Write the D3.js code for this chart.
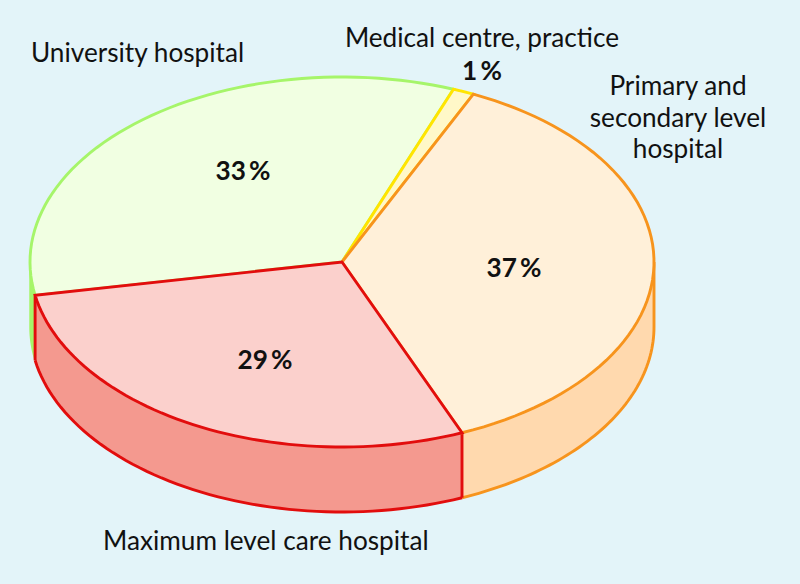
<!DOCTYPE html>
<html><head><meta charset="utf-8">
<script src="https://cdn.jsdelivr.net/npm/d3@7"></script>
<style>html,body{margin:0;padding:0;background:#e3f4f9}svg{display:block}text{font-family:"Lato",sans-serif;fill:#111}</style>
</head><body><svg id="c" width="800" height="584"></svg>
<script>
const categories = ["Primary and secondary level hospital","Maximum level care hospital","University hospital","Medical centre, practice"];
const sliceShares = [36.8, 28.4, 33.7, 1.1];
const percentLabels = ["37\u2009%","29\u2009%","33\u2009%","1\u2009%"];
const strokeColors = ["#f7941d","#e20d0d","#a6f56a","#ffe500"];
const topColors = ["#fff0d9","#fbd0cc","#f1ffe2","#fff8c8"];
const wallColors = ["#ffd9ae","#f4998f","#a6f56a","#ffe500"];
const startDegrees = 24.9;

const svg = d3.select("#c");
const cx=342, cy=262, rx=312, ry=185, depth=65, sw=2.9;
const sx = d3.scaleLinear().domain([-1,1]).range([cx-rx,cx+rx]);
const sy = d3.scaleLinear().domain([-1,1]).range([cy-ry,cy+ry]);
const line = d3.line().x(d=>d[0]).y(d=>d[1]);
const rim = (a,dy=0)=>[sx(Math.sin(a)), sy(-Math.cos(a))+dy];
const arcPts = (a0,a1,dy=0)=>d3.range(0,61).map(i=>rim(a0+(a1-a0)*i/60,dy));

const start = startDegrees*Math.PI/180;
const arcs = d3.pie().sort(null).startAngle(start).endAngle(start+2*Math.PI)(sliceShares);
const idx = {orange:0,red:1,green:2,yellow:3};

function wall(i){
  const a0=Math.max(arcs[i].startAngle,Math.PI/2), a1=Math.min(arcs[i].endAngle,3*Math.PI/2);
  if(a1<=a0) return;
  const top=arcPts(a0,a1), bot=arcPts(a0,a1,depth);
  svg.append("path").attr("d",line([...top,...bot.reverse()])+"Z")
    .attr("fill",wallColors[i]).attr("stroke","none");
  svg.append("path").attr("d",line(arcPts(a0,a1,depth))).attr("fill","none")
    .attr("stroke",strokeColors[i]).attr("stroke-width",sw);
}
const g=idx.green;
const ga0=arcs[idx.red].endAngle, ga1=3*Math.PI/2;
svg.append("path").attr("d",line([...arcPts(ga0,ga1),...arcPts(ga0,ga1,depth).reverse()])+"Z")
  .attr("fill",wallColors[g]).attr("stroke",strokeColors[g]).attr("stroke-width",1.5);
wall(idx.orange);
svg.append("path").attr("d",line([rim(Math.PI/2),rim(Math.PI/2,depth)])).attr("stroke",strokeColors[idx.orange]).attr("stroke-width",sw).attr("fill","none");
wall(idx.red);
[arcs[idx.red].startAngle,arcs[idx.red].endAngle].forEach(a=>{
  svg.append("path").attr("d",line([rim(a),rim(a,depth)])).attr("stroke",strokeColors[idx.red]).attr("stroke-width",sw).attr("fill","none");
});

[idx.green,idx.yellow,idx.orange,idx.red].forEach(i=>{
  const d=arcs[i];
  svg.append("path").attr("d",line([[cx,cy],...arcPts(d.startAngle,d.endAngle)])+"Z")
    .attr("fill",topColors[i]).attr("stroke",strokeColors[i]).attr("stroke-width",sw).attr("stroke-linejoin","miter");
});

const fs=26.2;
function label(t,x,y,anchor,bold){
  svg.append("text").attr("x",x).attr("y",y).attr("text-anchor",anchor)
    .attr("font-size",fs).attr("font-weight",bold?700:400).text(t);
}
label(categories[2],31,62,"start");
label(categories[3],482,47,"middle");
label(categories[1],103,550,"start");
label("Primary and",678,95,"middle");
label("secondary level",678,127,"middle");
label("hospital",678,158,"middle");
label(percentLabels[3],482,80,"middle",true);
label(percentLabels[2],243,180,"middle",true);
label(percentLabels[0],514,277,"middle",true);
label(percentLabels[1],265,369,"middle",true);
</script></body></html>
